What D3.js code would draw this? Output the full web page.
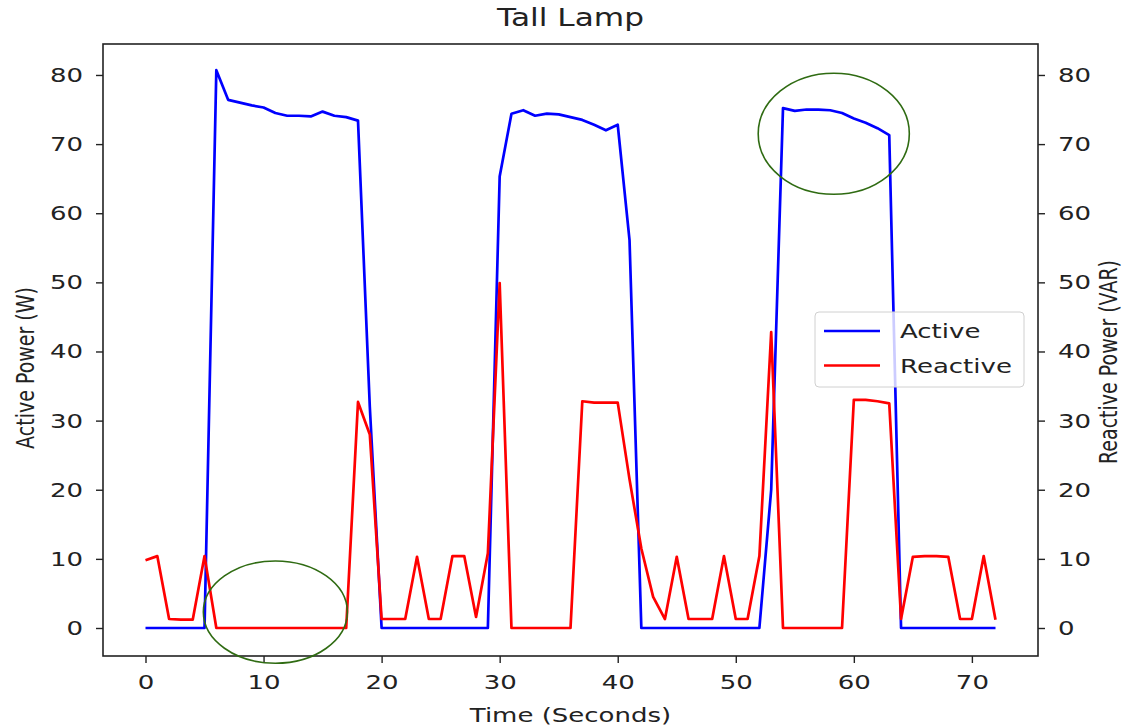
<!DOCTYPE html>
<html lang="en">
<head>
<meta charset="UTF-8">
<title>Tall Lamp</title>
<script src="https://d3js.org/d3.v7.min.js"></script>
<style>
  body { margin: 0; background: #fff; }
  text { font-family: "DejaVu Sans", sans-serif; fill: #222; }
</style>
</head>
<body>
<script>
// seconds
var seconds = [0,1,2,3,4,5,6,7,8,9,10,11,12,13,14,15,16,17,18,19,20,21,22,23,24,25,26,27,28,29,30,31,32,33,34,35,36,37,38,39,40,41,42,43,44,45,46,47,48,49,50,51,52,53,54,55,56,57,58,59,60,61,62,63,64,65,66,67,68,69,70,71,72];
// active power (W)
var active = [0,0,0,0,0,0,80.7,76.4,76.0,75.6,75.3,74.5,74.1,74.1,74.0,74.7,74.1,73.9,73.4,32,
  0,0,0,0,0,0,0,0,0,0,65.3,74.4,74.9,74.1,74.4,74.3,73.9,73.5,72.8,72.0,72.8,56.1,
  0,0,0,0,0,0,0,0,0,0,0,20,75.2,74.8,75.0,75.0,74.9,74.5,73.7,73.1,72.3,71.3,
  0,0,0,0,0,0,0,0,0];
// reactive power (VAR)
var reactive = [9.8,10.4,1.3,1.2,1.2,10.4,0,0,0,0,0,0,0,0,0,0,0,0,32.7,28,
  1.3,1.3,1.3,10.3,1.3,1.3,10.4,10.4,1.6,10.8,49.9,0,0,0,0,0,0,32.8,32.6,32.6,32.6,21.5,
  11.5,4.5,1.3,10.3,1.3,1.3,1.3,10.4,1.3,1.3,10.4,42.8,0,0,0,0,0,0,33.0,33.0,32.8,32.5,
  1.3,10.3,10.4,10.4,10.3,1.3,1.3,10.4,1.2];
var xTicks = [0,10,20,30,40,50,60,70];
var yTicks = [0,10,20,30,40,50,60,70,80];
var seriesNames = ["Active","Reactive"];
var seriesColors = ["#0000ff","#ff0000"];
// hand-drawn marks: centre (s, value), radii in data units
var circled = [{cx:11.0, cy:2.3, rx:6.1, ry:7.4}, {cx:58.3, cy:71.5, rx:6.4, ry:8.75}];

var W=1122, H=727, stretch=1.3;
var L=103, R=1038, T=44, B=656;

var svg = d3.select("body").append("svg").attr("width",W).attr("height",H);

var x = d3.scaleLinear().domain([-3.6,75.6]).range([L,R]);
var y = d3.scaleLinear().domain([-4.05,84.48]).range([B,T]);
var y2 = d3.scaleLinear().domain([-4.05,84.48]).range([B,T]);

function widen(sel){
  sel.each(function(){
    var t=d3.select(this);
    var tx=+t.attr("x")||0, ty=+t.attr("y")||0;
    var rot=t.attr("data-rot");
    t.attr("x",0).attr("y",0)
     .attr("transform","translate("+tx+","+ty+") scale("+stretch+",1)"+(rot?" rotate("+rot+")":""));
  });
}

// axes
var gx = svg.append("g").attr("transform","translate(0,"+B+")")
  .call(d3.axisBottom(x).tickValues(xTicks).tickSize(7).tickPadding(12));
var gy = svg.append("g").attr("transform","translate("+L+",0)")
  .call(d3.axisLeft(y).tickValues(yTicks).tickSize(7).tickPadding(13));
var gy2 = svg.append("g").attr("transform","translate("+R+",0)")
  .call(d3.axisRight(y2).tickValues(yTicks).tickSize(7).tickPadding(13));
[gx,gy,gy2].forEach(function(g){
  g.select(".domain").remove();
  g.selectAll(".tick line").attr("stroke","#222").attr("stroke-width",1.4);
  g.selectAll(".tick text").attr("font-size",20).attr("fill","#222");
  widen(g.selectAll(".tick text"));
});

// lines
var line1 = d3.line().x(function(d,i){return x(seconds[i]);}).y(function(d){return y(d);});
var line2 = d3.line().x(function(d,i){return x(seconds[i]);}).y(function(d){return y2(d);});
svg.append("path").datum(active).attr("d",line1)
  .attr("fill","none").attr("stroke",seriesColors[0]).attr("stroke-width",2.7).attr("stroke-linejoin","round");
svg.append("path").datum(reactive).attr("d",line2)
  .attr("fill","none").attr("stroke",seriesColors[1]).attr("stroke-width",2.7).attr("stroke-linejoin","round");

// frame
svg.append("rect").attr("x",L).attr("y",T).attr("width",R-L).attr("height",B-T)
  .attr("fill","none").attr("stroke","#222").attr("stroke-width",1.6);

// labels
svg.append("text").attr("class","lbl").attr("x",(L+R)/2).attr("y",26)
  .attr("text-anchor","middle").attr("font-size",24).text("Tall Lamp");
svg.append("text").attr("class","lbl").attr("x",(L+R)/2).attr("y",722)
  .attr("text-anchor","middle").attr("font-size",20).text("Time (Seconds)");
svg.append("text").attr("class","lbl").attr("x",34).attr("y",(T+B)/2+18).attr("data-rot",-90)
  .attr("text-anchor","middle").attr("font-size",19).text("Active Power (W)");
svg.append("text").attr("class","lbl").attr("x",1117).attr("y",(T+B)/2+12).attr("data-rot",-90)
  .attr("text-anchor","middle").attr("font-size",19).text("Reactive Power (VAR)");
widen(svg.selectAll("text.lbl"));

// legend
var lg = svg.append("g").attr("transform","translate(815,312)");
lg.append("rect").attr("width",209).attr("height",75).attr("rx",4)
  .attr("fill","#fff").attr("fill-opacity",0.8).attr("stroke","#d0d0d0").attr("stroke-width",1);
var items = lg.selectAll(".item").data(seriesNames).enter().append("g")
  .attr("transform",function(d,i){return "translate(0,"+(19+i*34.5)+")";});
items.append("line").attr("x1",9).attr("x2",65).attr("stroke",function(d,i){return seriesColors[i];}).attr("stroke-width",2.7);
items.append("text").attr("class","lgt").attr("x",85).attr("y",7).attr("font-size",20).text(function(d){return d;});
widen(lg.selectAll("text.lgt"));

// green ellipses
svg.selectAll(".mark").data(circled).enter().append("ellipse")
  .attr("cx",function(d){return x(d.cx);}).attr("cy",function(d){return y(d.cy);})
  .attr("rx",function(d){return x(d.rx)-x(0);}).attr("ry",function(d){return y(0)-y(d.ry);})
  .attr("fill","none").attr("stroke","#2f6b12").attr("stroke-width",1.6);
</script>
</body>
</html>
